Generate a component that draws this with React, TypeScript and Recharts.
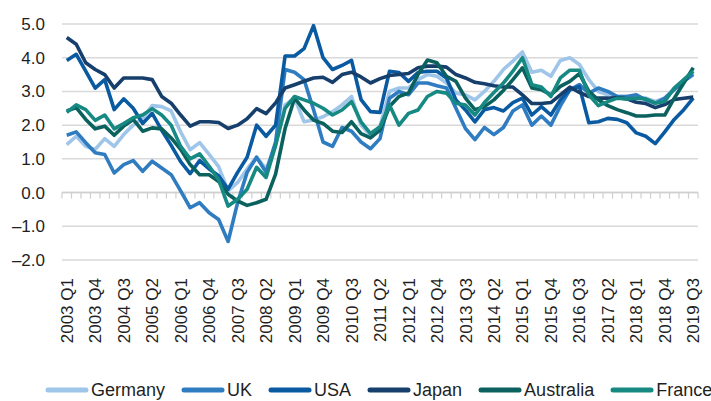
import { LineChart, Line, XAxis, YAxis, CartesianGrid, ReferenceLine, Legend } from "recharts";

// quarterly categories 2003 Q1 .. 2019 Q3
const quarters: string[] = [];
for (let y = 2003; y <= 2019; y++) {
  for (let q = 1; q <= 4; q++) {
    if (y === 2019 && q > 3) break;
    quarters.push(`${y} Q${q}`);
  }
}

const yTicks = [-2, -1, 0, 1, 2, 3, 4, 5];

const germany = [
  1.42, 1.67, 1.37, 1.28, 1.6, 1.37, 1.72, 2.0, 2.2, 2.58, 2.55, 2.42, 1.8, 1.27, 1.48, 1.13, 0.77, 0.05, 0.3, 0.7,
  1.05, 0.7, 1.4, 2.6, 2.8, 2.1, 2.15, 2.25, 2.4, 2.6, 2.85, 2.0, 1.7, 1.95, 3.0, 3.1, 3.1, 3.35, 3.5, 3.45,
  3.25, 2.95, 2.9, 2.75, 3.0, 3.3, 3.65, 3.9, 4.17, 3.57, 3.63, 3.45, 3.92, 4.0, 3.8, 3.35, 3.0, 2.9, 2.85, 2.85,
  2.8, 2.8, 2.7, 2.8, 3.1, 3.3, 3.55,
];
const uk = [
  1.7, 1.8, 1.48, 1.18, 1.13, 0.58, 0.83, 0.95, 0.63, 0.93, 0.73, 0.53, 0.05, -0.45, -0.3, -0.6, -0.8, -1.45, -0.3, 0.6,
  1.05, 0.6, 1.5, 3.65, 3.57, 3.35, 2.46, 1.5, 1.37, 1.93, 1.82, 1.5, 1.3, 1.6, 2.8, 3.0, 2.9, 3.25, 3.25, 3.17,
  3.1, 2.5, 1.9, 1.57, 1.93, 1.72, 1.93, 2.42, 2.6, 2.0, 2.27, 2.0, 2.57, 3.05, 3.2, 2.95, 3.1, 3.0, 2.85, 2.85,
  2.9, 2.75, 2.65, 2.8, 3.05, 3.3, 3.5,
];
const usa = [
  3.92, 4.1, 3.6, 3.1, 3.35, 2.46, 2.78, 2.5, 2.05, 2.35, 1.85, 1.4, 0.92, 0.56, 0.95, 0.7, 0.5, 0.1, 0.6, 1.05,
  2.0, 1.67, 2.0, 4.05, 4.05, 4.27, 4.95, 4.0, 3.65, 3.77, 3.92, 2.76, 2.4, 2.38, 3.6, 3.56, 3.3, 3.56, 3.6, 3.6,
  3.4, 2.75, 2.45, 2.1, 2.46, 2.52, 2.42, 2.67, 2.8, 2.3, 2.55, 2.3, 2.75, 3.05, 3.15, 2.07, 2.1, 2.2, 2.17, 2.07,
  1.77, 1.67, 1.45, 1.8, 2.17, 2.46, 2.8,
];
const japan = [
  4.6, 4.4, 3.85, 3.65, 3.5, 3.1, 3.4, 3.4, 3.4, 3.35, 2.85, 2.65, 2.3, 1.97, 2.1, 2.1, 2.08, 1.9, 2.0, 2.19,
  2.49, 2.34, 2.66, 3.1, 3.2, 3.3, 3.4, 3.42, 3.27, 3.5, 3.57, 3.43, 3.25, 3.38, 3.47, 3.5, 3.53, 3.7, 3.75, 3.75,
  3.72, 3.5, 3.4, 3.27, 3.23, 3.17, 3.13, 3.13, 2.9, 2.64, 2.64, 2.67, 2.9, 3.13, 2.97, 2.85, 2.8, 2.8, 2.82, 2.78,
  2.68, 2.64, 2.52, 2.61, 2.76, 2.8, 2.83,
];
const australia = [
  2.42, 2.52, 2.17, 1.89, 1.97, 1.7, 1.97, 2.17, 1.82, 1.92, 1.89, 1.62, 1.28, 0.83, 0.53, 0.53, 0.33, -0.05, -0.25, -0.38,
  -0.3, -0.2, 0.55, 1.9, 2.8, 2.45, 2.15, 2.05, 1.82, 1.78, 2.1, 1.75, 1.62, 1.85, 2.55, 2.85, 2.95, 3.5, 3.93, 3.85,
  3.45, 3.3, 2.8, 2.46, 2.55, 2.75, 3.03, 3.35, 3.7, 3.1, 3.05, 2.9, 3.15, 3.3, 3.53, 3.0, 2.75, 2.58, 2.46, 2.37,
  2.27, 2.27, 2.3, 2.3, 2.8, 3.25, 3.7,
];
const france = [
  2.38, 2.6, 2.46, 2.14, 2.3, 1.89, 2.05, 2.22, 2.3, 2.49, 2.3, 2.0, 1.37, 1.0, 1.15, 0.78, 0.38, -0.4, -0.2, 0.1,
  0.75, 0.45, 1.4, 2.5, 2.85, 2.75, 2.65, 2.5, 2.3, 2.45, 2.7, 2.1, 1.75, 1.95, 2.6, 2.0, 2.35, 2.45, 2.85, 3.0,
  2.95, 2.65, 2.6, 2.3, 2.67, 2.97, 3.25, 3.6, 4.0, 3.2, 3.13, 2.85, 3.4, 3.63, 3.63, 2.9, 2.58, 2.7, 2.8, 2.78,
  2.8, 2.78, 2.65, 2.7, 3.1, 3.35, 3.6,
];

const series = [
  { name: "Germany", color: "#9fc5e8", values: germany },
  { name: "UK", color: "#2f7cc0", values: uk },
  { name: "USA", color: "#0a5aa2", values: usa },
  { name: "Japan", color: "#163f6c", values: japan },
  { name: "Australia", color: "#0a615e", values: australia },
  { name: "France", color: "#168983", values: france },
];

const data = quarters.map((q, i) => {
  const row: Record<string, string | number> = { quarter: q };
  series.forEach((s) => (row[s.name] = s.values[i]));
  return row;
});

const FONT = "'Liberation Sans', Arial, sans-serif";
const TEXT = "#1f1f1f";

const fmt = (v: number) => (v < 0 ? "\u2013" + Math.abs(v).toFixed(1) : v.toFixed(1));

const QuarterTick = (props: any) => {
  const { x, y, payload } = props;
  return (
    <text
      x={x}
      y={y + 10}
      transform={`rotate(-90 ${x} ${y + 10})`}
      textAnchor="end"
      dy="0.36em"
      fontSize={17}
      fill={TEXT}
      fontFamily={FONT}
    >
      {payload.value}
    </text>
  );
};

// zero line acts as category axis: grey line with small ticks between categories
const ZeroAxis = (props: any) => {
  const { x1, x2, y1 } = props;
  const n = quarters.length;
  const step = (x2 - x1) / n;
  const marks = [];
  for (let i = 0; i <= n; i++) {
    const x = x1 + step * i;
    marks.push(<line key={i} x1={x} x2={x} y1={y1} y2={y1 + 6} stroke="#cfcfcf" strokeWidth={1.2} />);
  }
  return (
    <g>
      <line x1={x1} x2={x2} y1={y1} y2={y1} stroke="#cfcfcf" strokeWidth={1.5} />
      {marks}
    </g>
  );
};

const LegendContent = () => (
  <div style={{ display: "flex", paddingLeft: 45, gap: 16, fontFamily: FONT, fontSize: 18, color: TEXT, lineHeight: "22px" }}>
    {series.map((s) => (
      <div key={s.name} style={{ display: "flex", alignItems: "center", gap: 2 }}>
        <svg width={44} height={8}>
          <line x1={3} x2={41} y1={4} y2={4} stroke={s.color} strokeWidth={5} strokeLinecap="round" />
        </svg>
        <span>{s.name}</span>
      </div>
    ))}
  </div>
);

export default function App() {
  return (
    <div style={{ width: 711, height: 401, overflow: "hidden", background: "#fff" }}>
      <style>{"body{margin:0}"}</style>
      <LineChart width={711} height={401} data={data} margin={{ top: 24, right: 13, left: 0, bottom: 0 }}>
        <CartesianGrid vertical={false} stroke="#d9d9d9" strokeWidth={1.5} />
        <XAxis
          dataKey="quarter"
          scale="band"
          interval={2}
          axisLine={false}
          tickLine={false}
          tick={<QuarterTick />}
          height={119}
        />
        <YAxis
          domain={[-2, 5]}
          ticks={yTicks}
          tickFormatter={fmt}
          axisLine={false}
          tickLine={false}
          width={62}
          tickMargin={11}
          tick={{ fontSize: 17, fill: TEXT, fontFamily: FONT }}
        />
        <ReferenceLine y={0} shape={<ZeroAxis />} />
        {series.map((s) => (
          <Line
            key={s.name}
            dataKey={s.name}
            stroke={s.color}
            strokeWidth={3.6}
            dot={false}
            strokeLinejoin="round"
            isAnimationActive={false}
          />
        ))}
        <Legend verticalAlign="bottom" height={22} content={<LegendContent />} />
      </LineChart>
    </div>
  );
}
